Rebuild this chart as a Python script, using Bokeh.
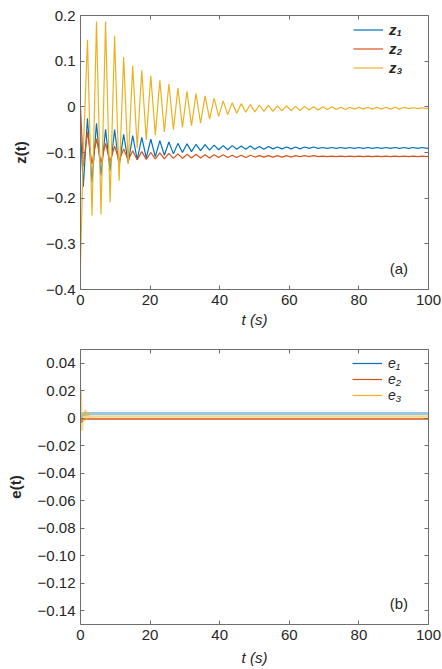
from bokeh.plotting import figure
from bokeh.models import (Range1d, FixedTicker, LinearAxis, Legend, LegendItem,
                          Label, CustomJSTickFormatter)
from bokeh.layouts import column
from bokeh.embed import file_html
from bokeh.resources import INLINE

# ---------------- data (extrema of the oscillations) ----------------
t_z = [0, 0.8, 2.0, 3.3, 4.6, 5.9, 7.2, 8.5, 9.8, 11.1, 12.4, 13.7, 15.0, 16.3, 17.6, 18.9,
       20.2, 21.5, 22.8, 24.1, 25.4, 26.7, 28.0, 29.3, 30.6, 31.9, 33.2, 34.5, 35.8, 37.1,
       38.4, 39.7, 41.0, 42.3, 43.6, 44.9, 46.2, 47.5, 48.8, 50.1, 51.4, 52.7, 54.0, 55.3,
       56.6, 57.9, 59.2, 60.5, 61.8, 63.1, 64.4, 65.7, 67.0, 68.3, 69.6, 70.9, 72.2, 73.5,
       74.8, 76.1, 77.4, 78.7, 80.0, 81.3, 82.6, 83.9, 85.2, 86.5, 87.8, 89.1, 90.4, 91.7,
       93.0, 94.3, 95.6, 96.9, 98.2, 99.5, 100.0]

z1 = [-0.050, -0.175,
      -0.025, -0.165, -0.036, -0.150, -0.049, -0.140, -0.050, -0.130, -0.060, -0.122,
      -0.063, -0.116, -0.067, -0.112, -0.071, -0.109, -0.074, -0.106, -0.077, -0.103,
      -0.080, -0.100, -0.081, -0.098, -0.082, -0.096, -0.083, -0.095, -0.084, -0.094,
      -0.085, -0.094, -0.085, -0.093, -0.086, -0.093, -0.086, -0.093, -0.087, -0.093,
      -0.087, -0.092, -0.088, -0.092, -0.088, -0.092, -0.088, -0.092, -0.088, -0.091,
      -0.088, -0.091, -0.089, -0.091, -0.089, -0.091, -0.089, -0.091, -0.089, -0.091,
      -0.089, -0.091, -0.089, -0.091, -0.089, -0.091, -0.089, -0.091, -0.089, -0.091,
      -0.089, -0.091, -0.089, -0.091, -0.089, -0.091,
      -0.090]

z2 = [0.000, -0.130,
      -0.055, -0.125, -0.070, -0.122, -0.080, -0.120, -0.086, -0.118, -0.092, -0.117,
      -0.096, -0.116, -0.098, -0.115, -0.100, -0.114, -0.101, -0.114, -0.102, -0.113,
      -0.103, -0.113, -0.104, -0.112, -0.104, -0.112, -0.105, -0.112, -0.105, -0.111,
      -0.105, -0.111, -0.106, -0.111, -0.106, -0.111, -0.106, -0.110, -0.107, -0.110,
      -0.107, -0.110, -0.107, -0.110, -0.107, -0.110, -0.107, -0.109, -0.107, -0.109,
      -0.107, -0.109, -0.108, -0.109, -0.108, -0.109, -0.108, -0.109, -0.108, -0.109,
      -0.108, -0.109, -0.108, -0.109, -0.108, -0.109, -0.108, -0.109, -0.108, -0.109,
      -0.108, -0.109, -0.108, -0.109, -0.108, -0.109,
      -0.108]

z3 = [-0.344, -0.100,
      0.147, -0.238, 0.187, -0.235, 0.187, -0.209, 0.155, -0.162, 0.109, -0.125,
      0.090, -0.090, 0.080, -0.072, 0.068, -0.062, 0.058, -0.055, 0.050, -0.050,
      0.041, -0.045, 0.034, -0.041, 0.029, -0.036, 0.024, -0.027, 0.019, -0.021,
      0.013, -0.017, 0.009, -0.014, 0.007, -0.012, 0.005, -0.011, 0.004, -0.010,
      0.003, -0.010, 0.002, -0.009, 0.002, -0.008, 0.001, -0.008, 0.001, -0.007,
      0.000, -0.007, 0.000, -0.006, 0.000, -0.006, -0.001, -0.006, -0.001, -0.005,
      -0.001, -0.005, -0.001, -0.005, -0.001, -0.005, -0.001, -0.005, -0.001, -0.005,
      -0.001, -0.004, -0.002, -0.004, -0.002, -0.004,
      -0.003]

t_e = [0, 0.4, 0.6, 1.0, 1.4, 1.8, 2.2, 2.6, 3.2, 100]
e1 = [0.0000, 0.0020, 0.0040, 0.0020, 0.0040, 0.0030, 0.0035, 0.0033, 0.0034, 0.0034]
e2 = [0.0000, -0.0030, -0.0010, -0.0008, -0.0006, -0.0006, -0.0006, -0.0006, -0.0006, -0.0006]
e3 = [0.0200, -0.0090, 0.0040, -0.0020, 0.0060, -0.0010, 0.0040, 0.0005, 0.0013, 0.0013]

x_ticks = [0, 20, 40, 60, 80, 100]
z_ticks = [-0.4, -0.3, -0.2, -0.1, 0.0, 0.1, 0.2]
e_ticks = [-0.14, -0.12, -0.10, -0.08, -0.06, -0.04, -0.02, 0.0, 0.02, 0.04]

z_labels = ["z\u2081", "z\u2082", "z\u2083"]
e_labels = ["e\u2081", "e\u2082", "e\u2083"]

C_BLUE, C_RED, C_ORANGE = "#0072BD", "#D95319", "#EDB120"
FONT = "Liberation Sans"
TXT = "#262626"
AX = "#6e6e6e"


def fmt(decimals):
    return CustomJSTickFormatter(args=dict(d=decimals), code="""
        if (Math.abs(tick) < 1e-9) { return "0"; }
        return tick.toFixed(d).replace("-", "\u2212");
    """)


def blank():
    return CustomJSTickFormatter(code="return '';")


def style(p, xt, yt, ydec, xlabel, ylabel, x_standoff, y_standoff):
    p.xaxis.ticker = FixedTicker(ticks=xt)
    p.yaxis.ticker = FixedTicker(ticks=yt)
    p.yaxis.formatter = fmt(ydec)
    for ax in p.xaxis + p.yaxis:
        ax.major_tick_in = 4
        ax.major_tick_out = 0
        ax.minor_tick_in = 0
        ax.minor_tick_out = 0
        ax.axis_line_color = AX
        ax.major_tick_line_color = AX
        ax.major_label_text_font = FONT
        ax.major_label_text_font_size = "15px"
        ax.major_label_text_color = TXT
        ax.major_label_standoff = 5
        ax.axis_label_text_font = FONT
        ax.axis_label_text_font_size = "15px"
        ax.axis_label_text_color = TXT
    p.xaxis.axis_label = xlabel
    p.xaxis.axis_label_text_font_style = "italic"
    p.xaxis.axis_label_standoff = x_standoff
    p.yaxis.axis_label = ylabel
    p.yaxis.axis_label_text_font_style = "bold"
    p.yaxis.axis_label_standoff = y_standoff
    # box ticks on top and right
    top = LinearAxis(ticker=FixedTicker(ticks=xt), formatter=blank(),
                     major_tick_in=4, major_tick_out=0, minor_tick_in=0, minor_tick_out=0,
                     axis_line_color=AX, major_tick_line_color=AX, major_label_standoff=0)
    right = LinearAxis(ticker=FixedTicker(ticks=yt), formatter=blank(),
                       major_tick_in=4, major_tick_out=0, minor_tick_in=0, minor_tick_out=0,
                       axis_line_color=AX, major_tick_line_color=AX, major_label_standoff=0)
    p.add_layout(top, "above")
    p.add_layout(right, "right")
    p.xgrid.visible = False
    p.ygrid.visible = False
    p.outline_line_color = None
    p.background_fill_color = "white"
    p.border_fill_color = "white"


def add_text(p, x, y, text):
    p.add_layout(Label(x=x, y=y, text=text, text_font=FONT, text_font_size="15px",
                       text_color=TXT, text_align="center", text_baseline="middle"))


# ---------------- top figure ----------------
p1 = figure(width=442, height=334, x_range=Range1d(0, 100), y_range=Range1d(-0.4, 0.2),
            output_backend="svg", toolbar_location=None,
            min_border_left=80, min_border_right=14, min_border_top=15, min_border_bottom=45)
style(p1, x_ticks, z_ticks, 1, "t (s)", "z(t)", 3, 14)

r1 = p1.line(t_z, z1, line_color=C_BLUE, line_width=1.2)
r2 = p1.line(t_z, z2, line_color=C_RED, line_width=1.2)
r3 = p1.line(t_z, z3, line_color=C_ORANGE, line_width=1.2)

leg1 = Legend(items=[LegendItem(label=l, renderers=[r]) for l, r in zip(z_labels, [r1, r2, r3])],
              location=(273, 213), padding=0, margin=0, spacing=2,
              glyph_width=30, glyph_height=15, label_height=15, label_standoff=6,
              label_text_font=FONT, label_text_font_size="15px",
              label_text_font_style="bold italic", label_text_color=TXT,
              border_line_alpha=0, background_fill_alpha=0)
p1.add_layout(leg1)
add_text(p1, 91.5, -0.354, "(a)")

# ---------------- bottom figure ----------------
p2 = figure(width=442, height=335, x_range=Range1d(0, 100), y_range=Range1d(-0.15, 0.05),
            output_backend="svg", toolbar_location=None,
            min_border_left=80, min_border_right=14, min_border_top=15, min_border_bottom=45)
style(p2, x_ticks, e_ticks, 2, "t (s)", "e(t)", 6, 11)

p2.line(t_e, e1, line_color=C_BLUE, line_width=3, line_alpha=0.4)
p2.line(t_e, e2, line_color=C_RED, line_width=1.5)
p2.line(t_e, e3, line_color=C_ORANGE, line_width=2.5, line_alpha=0.5)

# legend keys: thin solid lines in the series colours (no data drawn)
nan = float("nan")
k1 = p2.line([nan], [nan], line_color=C_BLUE, line_width=1.2)
k2 = p2.line([nan], [nan], line_color=C_RED, line_width=1.2)
k3 = p2.line([nan], [nan], line_color=C_ORANGE, line_width=1.2)

leg2 = Legend(items=[LegendItem(label=l, renderers=[r]) for l, r in zip(e_labels, [k1, k2, k3])],
              location=(272, 221), padding=0, margin=0, spacing=0,
              glyph_width=30, glyph_height=14, label_height=14, label_standoff=6,
              label_text_font=FONT, label_text_font_size="14px",
              label_text_font_style="italic", label_text_color=TXT,
              border_line_alpha=0, background_fill_alpha=0)
p2.add_layout(leg2)
add_text(p2, 91.5, -0.1345, "(b)")

layout = column(p1, p2, spacing=0)
open("out.html", "w").write(file_html(layout, INLINE))
